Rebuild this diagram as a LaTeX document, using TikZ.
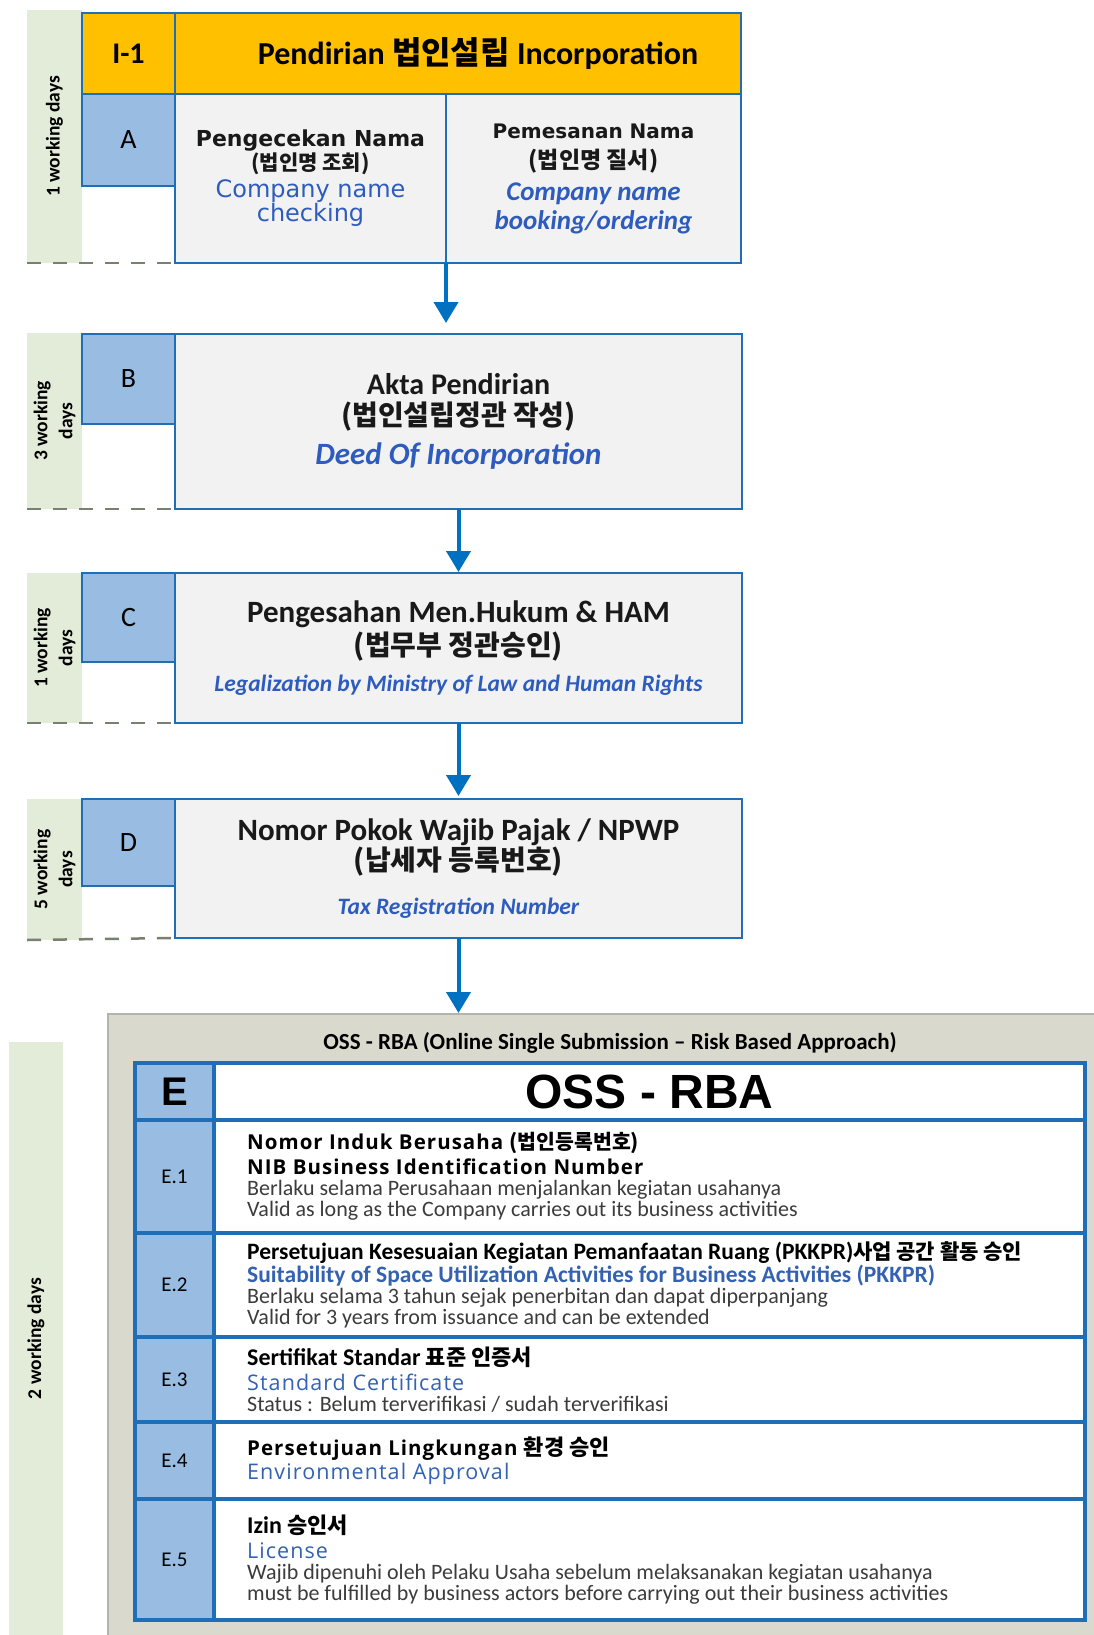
\documentclass[tikz,border=0pt]{standalone}
\usepackage{fontspec}
\setmainfont{Carlito}
\newfontfamily\korean{Noto Sans CJK KR}
\newfontfamily\opsans{Open Sans}
\newfontfamily\opwide{Open Sans}[LetterSpace=5]
\newfontfamily\dejavu{DejaVu Sans}
\newfontfamily\arialf{Liberation Sans}
\usepackage{tikz}
\usetikzlibrary{%
  positioning
 ,arrows.meta
 ,calc
}
\newcommand\fsz[2]{\fontsize{#1pt}{#2pt}\selectfont}
\definecolor{bdr}{RGB}{31,110,182}
\definecolor{gold}{RGB}{255,192,0}
\definecolor{lblue}{RGB}{152,188,226}
\definecolor{cgray}{RGB}{242,242,242}
\definecolor{dgreen}{RGB}{226,236,216}
\definecolor{dline}{RGB}{120,128,112}
\definecolor{ossbg}{RGB}{217,217,206}
\definecolor{ossedge}{RGB}{180,180,170}
\definecolor{tblue}{RGB}{46,92,190}
\definecolor{eblue}{RGB}{52,98,178}
\definecolor{egray}{RGB}{60,60,60}
\definecolor{arr}{RGB}{0,112,192}
\tikzstyle{tag}=[draw=bdr,fill=lblue,line width=1.5pt,inner sep=0pt,outer sep=0pt,anchor=north west,minimum width=93pt,font=\fsz{28}{28}]
\tikzstyle{card}=[draw=bdr,fill=cgray,line width=1.5pt,inner sep=0pt,outer sep=0pt,anchor=north west,align=center,text=black!90]
\tikzstyle{head}=[draw=bdr,fill=gold,line width=2.5pt,inner sep=0pt,outer sep=0pt,anchor=north west,minimum height=81pt,font=\bfseries\fsz{30}{30}]
\tikzstyle{days}=[fill=dgreen,rotate=90,inner sep=0pt,outer sep=0pt,align=center,minimum height=55pt,font=\bfseries\fsz{19.5}{25}]
\tikzstyle{sep}=[dline,line width=2.5pt,dash pattern=on 14pt off 12pt]
\tikzstyle{flow}=[arr,line width=4pt,-{Triangle[width=24pt,length=21pt]}]
\tikzstyle{ecell}=[draw=bdr,line width=4pt,inner sep=0pt,outer sep=0pt,anchor=north west]
\tikzstyle{etext}=[inner sep=0pt,align=left,text=egray,font=\fsz{22}{21}]

\begin{document}
\begin{tikzpicture}[x=1pt,y=-1pt]
  \useasboundingbox (0,0) rectangle (1094,1635);
  % working days
  \node[days,minimum width=253pt] (d_a) at (54.5,136.5) {1 working days};
  \node[days,minimum width=176pt] (d_b) at (54.5,421) {3 working\\days};
  \node[days,minimum width=150pt] (d_c) at (54.5,648) {1 working\\days};
  \node[days,minimum width=141pt] (d_d) at (54.5,869.5) {5 working\\days};
  \node[days,minimum width=593pt,minimum height=54pt] (d_e) at (36,1338.5) {2 working days};

  % I-1 and A
  \node[head,minimum width=93pt] (i_1) at (82,13) {I-1};
  \node[head,minimum width=566pt,font=\bfseries\fsz{32}{32}] (title) at (i_1.north east)
    {\hspace*{40pt}Pendirian {\korean\bfseries 법인설립} Incorporation};
  \node[tag,minimum height=92pt] (a) at (82,94) {A};
  \node[card,minimum width=271pt,minimum height=169pt,font=\fsz{22}{24}] (chk) at (a.north east)
    {{\dejavu\bfseries Pengecekan Nama}\\{\korean\bfseries\fsz{21}{21}(법인명 조회)}\\[3pt]
     {\dejavu\fsz{24}{24}\color{tblue}Company name}\\{\dejavu\fsz{24}{24}\color{tblue}checking}};
  \node[card,minimum width=295pt,minimum height=169pt,font=\fsz{20}{29}] (book) at (chk.north east)
    {{\dejavu\bfseries Pemesanan Nama}\\[1pt]{\korean\bfseries\fsz{23}{23}(법인명 질서)}\\[3pt]
     {\bfseries\itshape\fsz{27}{27}\color{tblue}Company name}\\{\bfseries\itshape\fsz{27}{27}\color{tblue}booking/ordering}};
  \draw[sep] (27,263) -- (chk.south west);

  % B
  \node[tag,minimum height=90pt] (b) at (82,334) {B};
  \node[card,minimum width=567pt,minimum height=175pt,font=\fsz{30}{31}] (deed) at (b.north east)
    {{\bfseries Akta Pendirian}\\{\korean\bfseries\fsz{28}{28}(법인설립정관 작성)}\\[8pt]
     {\bfseries\itshape\fsz{31}{31}\color{tblue}Deed Of Incorporation}};
  \draw[sep] (27,509) -- (deed.south west);

  % C
  \node[tag,minimum height=89pt] (c) at (82,573) {C};
  \node[card,minimum width=567pt,minimum height=150pt,font=\fsz{31}{33}] (legal) at (c.north east)
    {{\bfseries Pengesahan Men.Hukum \& HAM}\\{\korean\bfseries\fsz{28}{28}(법무부 정관승인)}\\[3pt]
     {\bfseries\itshape\fsz{23.5}{23.5}\color{tblue}Legalization by Ministry of Law and Human Rights}};
  \draw[sep] (27,723) -- (legal.south west);

  % D
  \node[tag,minimum height=87pt] (d) at (82,799) {D};
  \node[card,minimum width=567pt,minimum height=139pt,font=\fsz{31}{26}] (npwp) at (d.north east)
    {{\bfseries Nomor Pokok Wajib Pajak / NPWP}\\{\korean\bfseries\fsz{28}{28}(납세자 등록번호)}\\[18pt]
     {\bfseries\itshape\fsz{23.5}{23.5}\color{tblue}Tax Registration Number}};
  \draw[sep] (27,940) -- (npwp.south west);

  % OSS - RBA
  \node[draw=ossedge,fill=ossbg,line width=1.5pt,anchor=north west,minimum width=1000pt,minimum height=700pt] (oss) at (107,1013) {};
  \node[font=\bfseries\fsz{23}{23}] (oss_cap) at (610,1043) {OSS - RBA (Online Single Submission – Risk Based Approach)};
  \node[ecell,fill=lblue,minimum width=79pt,minimum height=57pt,font=\arialf\bfseries\fsz{40}{40}] (e) at (135,1063) {E};
  \node[ecell,fill=white,minimum width=871pt,minimum height=57pt,font=\arialf\bfseries\fsz{48}{48}] (e_head) at (e.north east) {OSS - RBA};
  \foreach \n/\t/\h in {1/1120/113,2/1233/104,3/1337/85,4/1422/77,5/1499/121}{
    \node[ecell,fill=lblue,minimum width=79pt,minimum height=\h pt,font=\fsz{21}{21}] (e_\n) at (135,\t) {E.\n};
    \node[ecell,fill=white,minimum width=871pt,minimum height=\h pt] (r_\n) at (e_\n.north east) {};
  }
  \node[etext] (t_1) [right=33pt of r_1.west]
    {{\opwide\bfseries\fsz{20.5}{20}\color{black}Nomor Induk Berusaha {\korean(법인등록번호)}}\\[4pt]
     {\opwide\bfseries\fsz{20.5}{20}\color{black}NIB Business Identification Number}\\
     Berlaku selama Perusahaan menjalankan kegiatan usahanya\\
     Valid as long as the Company carries out its business activities};
  \node[etext] (t_2) [right=33pt of r_2.west]
    {{\bfseries\fsz{23.5}{20}\color{black}Persetujuan Kesesuaian Kegiatan Pemanfaatan Ruang (PKKPR){\korean\fsz{21}{20}사업 공간 활동 승인}}\\
     {\bfseries\fsz{23.5}{20}\color{eblue}Suitability of Space Utilization Activities for Business Activities (PKKPR)}\\
     Berlaku selama 3 tahun sejak penerbitan dan dapat diperpanjang\\
     Valid for 3 years from issuance and can be extended};
  \node[etext] (t_3) [right=33pt of r_3.west]
    {{\bfseries\fsz{24}{21}\color{black}Sertifikat Standar {\korean\fsz{22}{21}표준 인증서}}\\[4pt]
     {\opwide\fsz{21.5}{21}\color{eblue}Standard Certificate}\\
     Status : Belum terverifikasi / sudah terverifikasi};
  \node[etext] (t_4) [right=33pt of r_4.west]
    {{\opwide\bfseries\fsz{20.5}{20}\color{black}Persetujuan Lingkungan {\korean\fsz{22}{20}환경 승인}}\\[2pt]
     {\opwide\fsz{21.5}{21}\color{eblue}Environmental Approval}};
  \node[etext] (t_5) [right=33pt of r_5.west]
    {{\bfseries\fsz{24}{21}\color{black}Izin {\korean\fsz{22}{21}승인서}}\\[4pt]
     {\opwide\fsz{21.5}{21}\color{eblue}License}\\
     Wajib dipenuhi oleh Pelaku Usaha sebelum melaksanakan kegiatan usahanya\\
     must be fulfilled by business actors before carrying out their business activities};

  % flow
  \path[flow]
    (chk.south east) edge[shorten >=11pt] (chk.south east |- deed.north)
    (deed) edge[shorten >=1pt] (legal)
    (legal) edge[shorten >=3pt] (npwp)
    (npwp) edge (npwp |- oss.north);
\end{tikzpicture}
\end{document}
